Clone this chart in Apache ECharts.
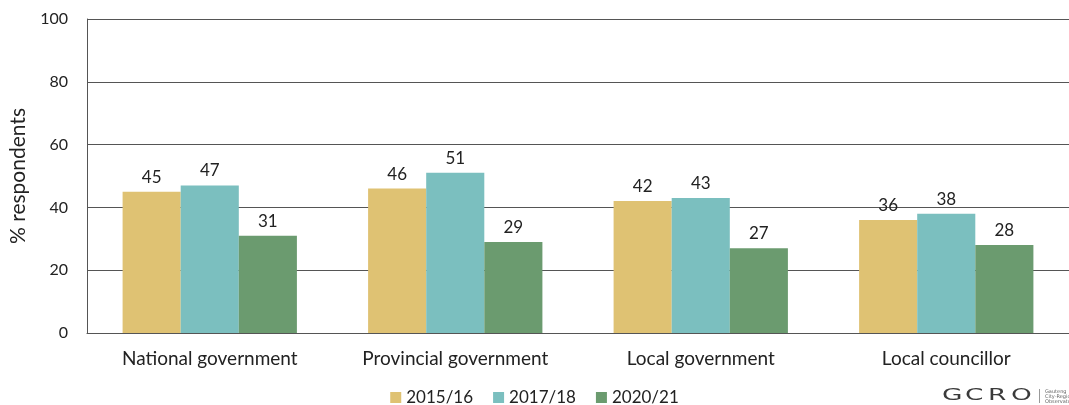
<!DOCTYPE html>
<html><head><meta charset="utf-8">
<script src="https://cdn.jsdelivr.net/npm/echarts@6/dist/echarts.min.js"></script>
<style>html,body{margin:0;padding:0;background:#fff}#c{width:1069px;height:405px}</style>
</head><body><div id="c"></div>
<script>
const categories = ['National government','Provincial government','Local government','Local councillor'];
const seriesNames = ['2015/16','2017/18','2020/21'];
const v2015 = [45,46,42,36];
const v2017 = [47,51,43,38];
const v2020 = [31,29,27,28];
const colors = ['#DFC273','#7BBFBF','#6B9B6F'];
const font = 'Lato';
const chart = echarts.init(document.getElementById('c'));
const mk = (name, data, color) => ({
  name, type:'bar', data, barGap:'0%', barCategoryGap:'29%',
  itemStyle:{color},
  label:{show:true, position:'top', distance:6, color:'#222', fontSize:17, fontFamily:font}
});
const logoLetters = ['G','C','R','O'];
const logo = logoLetters.map((ch, i) => ({
  type:'text', x:942 + i*23, y:388, scaleX:1.65, scaleY:1,
  style:{text:ch, fontSize:16, fill:'#3a3a3a', fontFamily:'DejaVu Sans', fontWeight:'normal'}
}));
chart.setOption({
  animation:false,
  textStyle:{fontFamily:font},
  grid:{left:85, right:0, top:19, bottom:72, containLabel:false},
  legend:{top:384, left:'center', itemWidth:11, itemHeight:11, itemGap:20, icon:'rect',
    textStyle:{fontSize:17, color:'#222', fontFamily:font},
    data:seriesNames},
  xAxis:{type:'category', data:categories,
    axisLine:{lineStyle:{color:'#555'}}, axisTick:{show:false},
    axisLabel:{fontSize:19, color:'#222', margin:16, fontFamily:font}},
  yAxis:{type:'value', min:0, max:100, interval:20,
    name:'% respondents', nameLocation:'middle', nameGap:58, nameRotate:90,
    nameTextStyle:{fontSize:21, color:'#222', fontFamily:font},
    axisLine:{show:true, lineStyle:{color:'#555'}}, axisTick:{show:false},
    splitLine:{lineStyle:{color:'#555'}},
    axisLabel:{fontSize:16, color:'#222', margin:19, fontFamily:font}},
  series:[mk(seriesNames[0], v2015, colors[0]), mk(seriesNames[1], v2017, colors[1]), mk(seriesNames[2], v2020, colors[2])],
  graphic:logo.concat([
    {type:'rect', x:1039, y:389, shape:{width:1, height:14}, style:{fill:'#999'}},
    {type:'text', x:1045, y:389, style:{text:'Gauteng\nCity-Region\nObservatory', fontSize:5, lineHeight:5, fill:'#666', fontFamily:'DejaVu Sans'}}
  ])
});
</script></body></html>
